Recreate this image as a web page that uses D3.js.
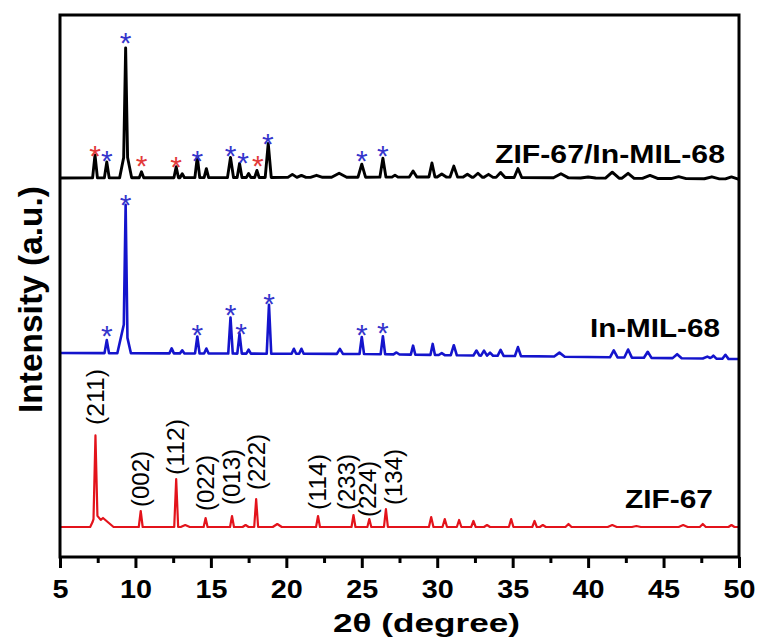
<!DOCTYPE html>
<html><head><meta charset="utf-8">
<script src="https://cdn.jsdelivr.net/npm/d3@7"></script>
<style>
body{margin:0;background:#fff}
text{font-family:"Liberation Sans",Arial,Helvetica,sans-serif}
</style>
</head><body>
<svg id="chart" width="761" height="641"></svg>
<script>
// ---------------- data ----------------
const xDomain = [5, 50];
const xMajorTicks = [5, 10, 15, 20, 25, 30, 35, 40, 45, 50];
const xMinorTicks = [7.5, 12.5, 17.5, 22.5, 27.5, 32.5, 37.5, 42.5, 47.5];
const xTitle = "2θ (degree)";
const yTitle = "Intensity (a.u.)";

const seriesNames = ["ZIF-67", "In-MIL-68", "ZIF-67/In-MIL-68"];
const seriesColors = ["#e3131b", "#1414cc", "#000000"];
const seriesOffsets = [30, 204, 379];   // vertical stacking offsets (a.u.)

// peaks: [2theta, height (a.u.), half-width (deg)]
const zifPeaks = [
  [7.35, 78, 0.13], [7.35, 11, 0.35], [7.85, 9, 0.7],
  [10.35, 16, 0.13], [12.7, 48, 0.13], [13.3, 2, 0.3], [14.65, 9, 0.13],
  [16.4, 11, 0.13], [17.3, 2, 0.2], [18.0, 28, 0.13], [19.4, 3, 0.3],
  [22.1, 11, 0.13], [24.45, 12, 0.13], [25.5, 8, 0.13], [26.6, 18, 0.13],
  [29.6, 10, 0.15], [30.5, 8, 0.15], [31.45, 7, 0.15], [32.4, 6, 0.15],
  [33.3, 2, 0.2], [34.9, 8, 0.15], [36.45, 6, 0.15], [37.0, 2, 0.2],
  [38.7, 3, 0.2], [41.6, 2, 0.3], [43.2, 1, 0.3], [46.3, 2, 0.3], [47.6, 3, 0.2], [49.5, 2, 0.2]
];
const milPeaks = [
  [8.1, 13, 0.15], [9.35, 125, 0.12], [9.25, 30, 0.45],
  [12.4, 5, 0.15], [13.1, 3, 0.15], [14.1, 17, 0.15], [14.7, 5, 0.15],
  [16.3, 36, 0.15], [16.9, 20, 0.15], [17.5, 4, 0.15], [18.85, 49, 0.15],
  [20.5, 5, 0.15], [21.0, 5, 0.15], [23.55, 5, 0.2], [25.0, 17, 0.15],
  [26.4, 18, 0.15], [27.3, 2, 0.2], [28.4, 9, 0.15], [29.7, 11, 0.15],
  [30.3, 2, 0.2], [31.1, 10, 0.2], [32.6, 5, 0.2], [33.1, 5, 0.2],
  [33.5, 3, 0.2], [34.2, 6, 0.2], [35.35, 9, 0.2], [38.1, 4, 0.35],
  [41.7, 7, 0.25], [42.65, 8, 0.25], [43.95, 6, 0.25], [45.9, 4, 0.3],
  [47.9, 2, 0.3], [48.3, 3, 0.2], [49.1, 4, 0.2]
];
const compositePeaks = [
  [7.32, 23, 0.16], [8.1, 16, 0.16], [9.35, 100, 0.13], [9.35, 30, 0.4],
  [10.4, 6, 0.15], [12.7, 11, 0.15], [13.1, 4, 0.15], [14.1, 21, 0.16],
  [14.7, 9, 0.15], [16.3, 20, 0.2], [16.9, 14, 0.16], [17.5, 4, 0.15],
  [18.05, 7, 0.15], [18.8, 34, 0.2], [20.4, 3, 0.3], [21.0, 2, 0.3],
  [22.0, 2, 0.4], [23.5, 4, 0.5], [25.0, 13, 0.25], [26.4, 19, 0.2],
  [27.2, 2, 0.2], [28.4, 6, 0.25], [29.65, 14, 0.2], [30.3, 3, 0.3],
  [31.1, 11, 0.25], [32.0, 3, 0.3], [32.7, 4, 0.3], [33.4, 3, 0.3],
  [34.2, 5, 0.3], [35.35, 9, 0.25], [38.2, 4, 0.5], [40.0, 1, 0.5],
  [41.6, 6, 0.45], [42.65, 5, 0.4], [44.1, 3, 0.5], [46.0, 2, 0.5],
  [48.2, 2, 0.5], [49.5, 2, 0.4]
];
// baseline drift per series: [2theta, level]
const zifBaseline = [[5, 0], [50, 0]];
const milBaseline = [[5, 0], [25, -1], [35, -3], [50, -6]];
const compositeBaseline = [[5, 0], [30, 1], [50, -1]];

// asterisk markers: [2theta, height above series baseline, colour key]
const compositeStars = [
  [7.32, 30, "r"], [8.1, 25, "b"], [9.35, 143, "b"], [10.4, 20, "r"],
  [12.7, 19, "r"], [14.1, 25, "b"], [16.3, 30, "b"], [17.13, 23, "b"],
  [18.12, 20, "r"], [18.78, 42, "b"], [25.0, 25, "b"], [26.4, 30, "b"]
];
const milStars = [
  [8.1, 25, "b"], [9.35, 156, "b"], [14.1, 26, "b"], [16.3, 46, "b"],
  [17.0, 27, "b"], [18.85, 57, "b"], [25.0, 26, "b"], [26.4, 28, "b"]
];
const starColors = {r: "#e23a3a", b: "#3535cc"};

// Miller index labels for ZIF-67: [text, 2theta, bottom height above baseline]
const millerLabels = [
  ["(211)", 7.4, 102], ["(002)", 10.35, 20], ["(112)", 12.7, 52],
  ["(022)", 14.7, 16], ["(013)", 16.4, 22], ["(222)", 18.05, 37],
  ["(114)", 22.1, 17], ["(233)", 24.02, 17], ["(224)", 25.41, 10],
  ["(134)", 27.13, 22]
];
// sample label positions (same order as seriesNames): [2theta start, height above baseline]
const sampleLabelPos = [[42.44, 19], [40.12, 16], [33.83, 15]];
const sampleLabelLen = [88, 130, 230];

// ---------------- chart ----------------
const svg = d3.select("#chart");
const x = d3.scaleLinear().domain(xDomain).range([60, 739]);
const y = d3.scaleLinear().domain([0, 542]).range([557, 15]);

function buildTrace(peaks, base) {
  const bl = d3.scaleLinear().domain(base.map(d => d[0])).range(base.map(d => d[1]));
  let xs = [xDomain[0], xDomain[1]].concat(base.map(d => d[0]));
  peaks.forEach(p => { xs.push(p[0] - p[2], p[0], p[0] + p[2]); });
  xs = Array.from(new Set(xs.filter(v => v >= xDomain[0] && v <= xDomain[1]))).sort((a, b) => a - b);
  return xs.map(t => {
    let v = bl(t);
    peaks.forEach(p => { const f = 1 - Math.abs(t - p[0]) / p[2]; if (f > 0) v += p[1] * f; });
    return [t, v];
  });
}

const peakSets = [zifPeaks, milPeaks, compositePeaks];
const baseSets = [zifBaseline, milBaseline, compositeBaseline];
const widths = [2.2, 2.6, 2.9];
const line = d3.line().x(d => x(d[0])).y(d => y(d[1]));

peakSets.forEach((pk, i) => {
  const pts = buildTrace(pk, baseSets[i]).map(d => [d[0], d[1] + seriesOffsets[i]]);
  svg.append("path").attr("d", line(pts)).attr("fill", "none")
    .attr("stroke", seriesColors[i]).attr("stroke-width", widths[i])
    .attr("stroke-linejoin", "round");
});

// asterisks
const starFs = 30;
function drawStars(stars, offset) {
  svg.append("g").selectAll("text").data(stars).join("text")
    .attr("x", d => x(d[0])).attr("y", d => y(d[1] + offset) + starFs * 0.585)
    .attr("text-anchor", "middle").attr("font-size", starFs)
    .attr("fill", d => starColors[d[2]]).text("*");
}
drawStars(compositeStars, seriesOffsets[2]);
drawStars(milStars, seriesOffsets[1]);

// Miller labels
svg.append("g").selectAll("text").data(millerLabels).join("text")
  .attr("transform", d => `translate(${x(d[1]) + 8},${y(d[2] + seriesOffsets[0])}) rotate(-90)`)
  .attr("font-size", 23).attr("fill", "#000")
  .attr("textLength", 56).attr("lengthAdjust", "spacingAndGlyphs")
  .text(d => d[0]);

// sample labels
svg.append("g").selectAll("text").data(seriesNames).join("text")
  .attr("x", (d, i) => x(sampleLabelPos[i][0]))
  .attr("y", (d, i) => y(sampleLabelPos[i][1] + seriesOffsets[i]))
  .attr("font-size", 26).attr("font-weight", "bold")
  .attr("textLength", (d, i) => sampleLabelLen[i]).attr("lengthAdjust", "spacingAndGlyphs")
  .text(d => d);

// frame
svg.append("rect").attr("x", 60).attr("y", 15).attr("width", 679).attr("height", 542)
  .attr("fill", "none").attr("stroke", "#000").attr("stroke-width", 3);

// axes
const gMinor = svg.append("g").attr("transform", "translate(0,557)")
  .call(d3.axisBottom(x).tickValues(xMinorTicks).tickSize(6).tickFormat(""));
gMinor.select(".domain").remove();
gMinor.selectAll("line").attr("stroke-width", 3);

const gMajor = svg.append("g").attr("transform", "translate(0,557)")
  .call(d3.axisBottom(x).tickValues(xMajorTicks).tickSize(11).tickFormat(d3.format("d")));
gMajor.select(".domain").remove();
gMajor.selectAll("line").attr("stroke-width", 3);
gMajor.selectAll("text").attr("y", 41).attr("dy", 0)
  .attr("font-size", 25).attr("font-weight", "bold").attr("fill", "#000")
  .attr("font-family", "'Liberation Sans',Arial,sans-serif")
  .attr("transform", "scale(1.15,1)");

// titles
svg.append("text").attr("x", 333).attr("y", 632)
  .attr("font-size", 26).attr("font-weight", "bold")
  .attr("textLength", 187).attr("lengthAdjust", "spacingAndGlyphs").text(xTitle);
svg.append("text").attr("transform", "translate(42,413) rotate(-90)")
  .attr("font-size", 33).attr("font-weight", "bold")
  .attr("textLength", 227).attr("lengthAdjust", "spacingAndGlyphs").text(yTitle);
</script>
</body></html>
